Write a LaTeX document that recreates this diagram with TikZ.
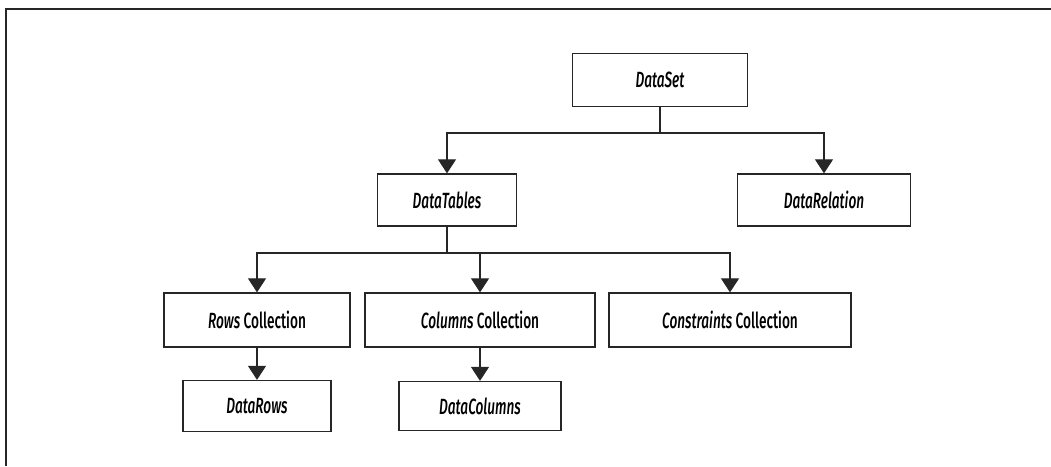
\documentclass[tikz,border=0pt]{standalone}
\usepackage{fontspec}
\setmainfont{Fira Sans Medium}[FakeStretch=0.62, ItalicFont={Fira Sans Medium Italic}]
\usetikzlibrary{arrows.meta}

\tikzset{
  box/.style={draw=black!85, line width=1.3pt, fill=white, inner sep=0pt,
    font=\fontsize{22}{25}\selectfont},
  conn/.style={draw=black!85, line width=1.2pt},
  arr/.style={conn, -{Triangle[width=18pt,length=14pt]}}
}

\begin{document}
\begin{tikzpicture}[x=1pt,y=-1pt]
\useasboundingbox (0,0) rectangle (1051,466);
% frame
\draw[line width=2pt, black!85] (6,466) -- (6,9) -- (1051,9);
% boxes
\node[box, minimum width=175pt, minimum height=53pt] (ds) at (660,80) {\itshape DataSet};
\node[box, minimum width=139pt, minimum height=52pt] (dt) at (447,200) {\itshape DataTables};
\node[box, minimum width=173pt, minimum height=52pt] (dr) at (824,200) {\itshape DataRelation};
\node[box, minimum width=186pt, minimum height=54pt] (rc) at (257,320) {\textit{Rows} Collection};
\node[box, minimum width=230pt, minimum height=54pt] (cc) at (480,320) {\textit{Columns} Collection};
\node[box, minimum width=242pt, minimum height=54pt] (kc) at (730,320) {\textit{Constraints} Collection};
\node[box, minimum width=148pt, minimum height=51pt] (drw) at (257,406) {\itshape DataRows};
\node[box, minimum width=162pt, minimum height=49pt] (dc) at (480,406) {\itshape DataColumns};
% junctions
\coordinate (j1) at (660,133);
\coordinate (j2) at (447,253);
% connectors
\draw[conn] (ds) -- (j1);
\draw[arr] (j1) -| (dt);
\draw[arr] (j1) -| (dr);
\draw[conn] (dt) -- (j2);
\draw[arr] (j2) -| (rc);
\draw[arr] (j2) -| (cc);
\draw[arr] (j2) -| (kc);
\draw[arr] (rc) -- (drw);
\draw[arr] (cc) -- (dc);
\end{tikzpicture}
\end{document}
